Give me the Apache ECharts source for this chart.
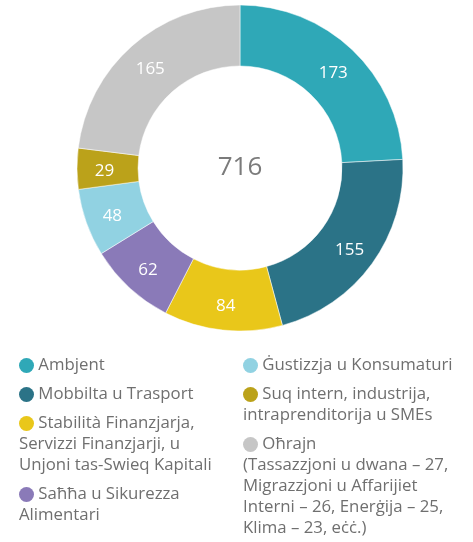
<!DOCTYPE html>
<html>
<head>
<meta charset="utf-8">
<script src="https://cdn.jsdelivr.net/npm/echarts@6/dist/echarts.min.js"></script>
<style>
  html, body { margin: 0; padding: 0; background: #fff; }
  #chart { width: 473px; height: 542px; }
</style>
</head>
<body>
<div id="chart"></div>
<script>
// categories in drawing order (clockwise from 12 o'clock)
var categories = [
  'Ambjent',
  'Mobbilta u Trasport',
  'Stabilità Finanzjarja,\nServizzi Finanzjarji, u\nUnjoni tas-Swieq Kapitali',
  'Saħħa u Sikurezza\nAlimentari',
  'Ġustizzja u Konsumaturi',
  'Suq intern, industrija,\nintraprenditorija u SMEs',
  'Oħrajn\n(Tassazzjoni u dwana – 27,\nMigrazzjoni u Affarijiet\nInterni – 26, Enerġija – 25,\nKlima – 23, eċċ.)'
];
var values = [173, 155, 84, 62, 48, 29, 165];
var colors = ['#2fa8b7', '#2b7387', '#e9c71a', '#8a7ab8', '#91d2e2', '#bba21a', '#c6c6c6'];
// which legend column each item goes in
var legendColumn = [0, 0, 0, 0, 1, 1, 1];

var total = values.reduce(function (a, b) { return a + b; }, 0);

var chart = echarts.init(document.getElementById('chart'));

var font = 'Open Sans';

// legend drawn as rich text so wrapped lines start under the dot
var lineH = 21, itemGap = 8, firstTop = 355;
var colX = [19, 243];
var colTop = [firstTop, firstTop];
var legendItems = categories.map(function (name, i) {
  var col = legendColumn[i];
  var top = colTop[col];
  var lines = name.split('\n');
  colTop[col] += lines.length * lineH + itemGap;
  var rich = {
    dot: { width: 15, height: 15, borderRadius: 7.5, backgroundColor: colors[i], verticalAlign: 'middle' },
    t: { fontSize: 16.8, lineHeight: lineH, fill: '#6f6f6f', fontFamily: font }
  };
  var txt = '{dot|} {t|' + lines[0] + '}';
  for (var k = 1; k < lines.length; k++) txt += '\n{t|' + lines[k] + '}';
  return {
    type: 'text',
    left: colX[col],
    top: top,
    style: {
      text: txt,
      rich: rich,
      fontSize: 16.8,
      lineHeight: lineH,
      fill: '#6f6f6f',
      fontFamily: font
    }
  };
});

var option = {
  animation: false,
  graphic: [{
    type: 'text',
    x: 240,
    y: 168,
    style: {
      text: String(total),
      fontSize: 26,
      fontFamily: font,
      fill: '#7b7b7b',
      align: 'center',
      verticalAlign: 'middle'
    }
  }].concat(legendItems),
  series: [{
    type: 'pie',
    center: [240, 168],
    radius: [102, 163],
    startAngle: 90,
    clockwise: true,
    avoidLabelOverlap: false,
    itemStyle: { borderColor: '#ffffff', borderWidth: 0.5 },
    label: {
      position: 'inside',
      formatter: '{c}',
      color: '#ffffff',
      fontSize: 17,
      fontFamily: font,
      offset: [0, 3]
    },
    labelLine: { show: false },
    emphasis: { disabled: true },
    data: categories.map(function (c, i) {
      return { name: c, value: values[i], itemStyle: { color: colors[i] } };
    })
  }]
};
chart.setOption(option);
</script>
</body>
</html>
